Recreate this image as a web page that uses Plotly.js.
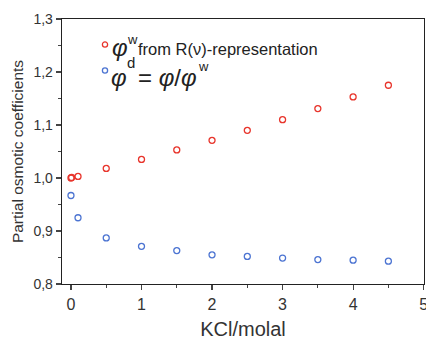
<!DOCTYPE html>
<html><head><meta charset="utf-8">
<script src="https://cdn.plot.ly/plotly-3.0.1.min.js"></script>
<style>body{margin:0;background:#fff}</style>
</head><body><div id="chart" style="width:426px;height:340px"></div>
<script>
const redX = [0, 0.01, 0.1, 0.5, 1, 1.5, 2, 2.5, 3, 3.5, 4, 4.5];
const redY = [1.000, 1.001, 1.003, 1.018, 1.035, 1.053, 1.071, 1.090, 1.110, 1.131, 1.153, 1.175];
const blueX = [0, 0.1, 0.5, 1, 1.5, 2, 2.5, 3, 3.5, 4, 4.5];
const blueY = [0.967, 0.925, 0.887, 0.871, 0.863, 0.855, 0.852, 0.849, 0.846, 0.845, 0.843];
const xTicks = [0, 1, 2, 3, 4, 5];
const yTicks = [0.8, 0.9, 1.0, 1.1, 1.2, 1.3];
const redColor = '#e8352c', blueColor = '#4c74d2';

// plot area in pixels: x 62..424, y 19..284
const px = v => (v - 62) / 362;
const py = v => (284 - v) / 265;

const traces = [
  {x: redX, y: redY, name: 'φw from R(ν)-representation', type: 'scatter', mode: 'markers',
   marker: {symbol: 'circle-open', size: 6, color: redColor, line: {width: 1.3}}},
  {x: blueX, y: blueY, name: 'φd = φ/φw', type: 'scatter', mode: 'markers',
   marker: {symbol: 'circle-open', size: 6, color: blueColor, line: {width: 1.3}}}
];
function legendMark(x, y, color) {
  return {type: 'circle', xref: 'paper', yref: 'paper', xsizemode: 'pixel', ysizemode: 'pixel',
          xanchor: px(x), yanchor: py(y), x0: -2.6, x1: 2.6, y0: -2.6, y1: 2.6,
          line: {color: color, width: 1.3}};
}
function txt(x, y, text, size) {
  return {xref: 'paper', yref: 'paper', x: px(x), y: py(y), xanchor: 'left', yanchor: 'middle',
          text: text, showarrow: false, font: {size: size, color: '#222'}, borderpad: 0};
}
const layout = {
  width: 426, height: 340,
  margin: {l: 62, r: 2, t: 19, b: 56},
  separators: ', ',
  paper_bgcolor: '#fff', plot_bgcolor: '#fff',
  font: {family: 'Liberation Sans, Arial, sans-serif', color: '#333'},
  showlegend: false,
  shapes: [legendMark(105, 44.5, redColor), legendMark(105, 70.5, blueColor)],
  annotations: [
    txt(111, 48, '<i>φ</i>', 24),
    txt(126, 39, 'w', 13),
    txt(137, 49, 'from R(ν)-representation', 16.5),
    txt(110, 78, '<i>φ</i>', 24),
    txt(126, 63, 'd', 15),
    txt(137, 78, '= <i>φ</i>/<i>φ</i>', 24),
    txt(197, 66, 'w', 13)
  ],
  xaxis: {range: [-0.127, 5.005], tickvals: xTicks, ticks: 'outside', ticklen: 5, tickwidth: 1.2,
          ticklabeloverflow: 'allow',
          minor: {dtick: 0.5, tick0: 0, ticks: 'outside', ticklen: 3, tickwidth: 1.2},
          showline: true, linecolor: '#222', linewidth: 1.3, mirror: true, showgrid: false, zeroline: false,
          tickfont: {size: 16, color: '#333'},
          title: {text: 'KCl/molal', font: {size: 20, color: '#333'}, standoff: 14}},
  yaxis: {range: [0.8, 1.3], tickvals: yTicks, tickformat: '.1f', ticks: 'outside', ticklen: 5, tickwidth: 1.2,
          minor: {dtick: 0.05, tick0: 0.8, ticks: 'outside', ticklen: 3, tickwidth: 1.2},
          showline: true, linecolor: '#222', linewidth: 1.3, mirror: true, showgrid: false, zeroline: false,
          tickfont: {size: 14, color: '#333'},
          title: {text: 'Partial osmotic coefficients', font: {size: 15.5, color: '#333'}, standoff: 6}}
};
Plotly.newPlot('chart', traces, layout, {displayModeBar: false, staticPlot: true});
</script></body></html>
